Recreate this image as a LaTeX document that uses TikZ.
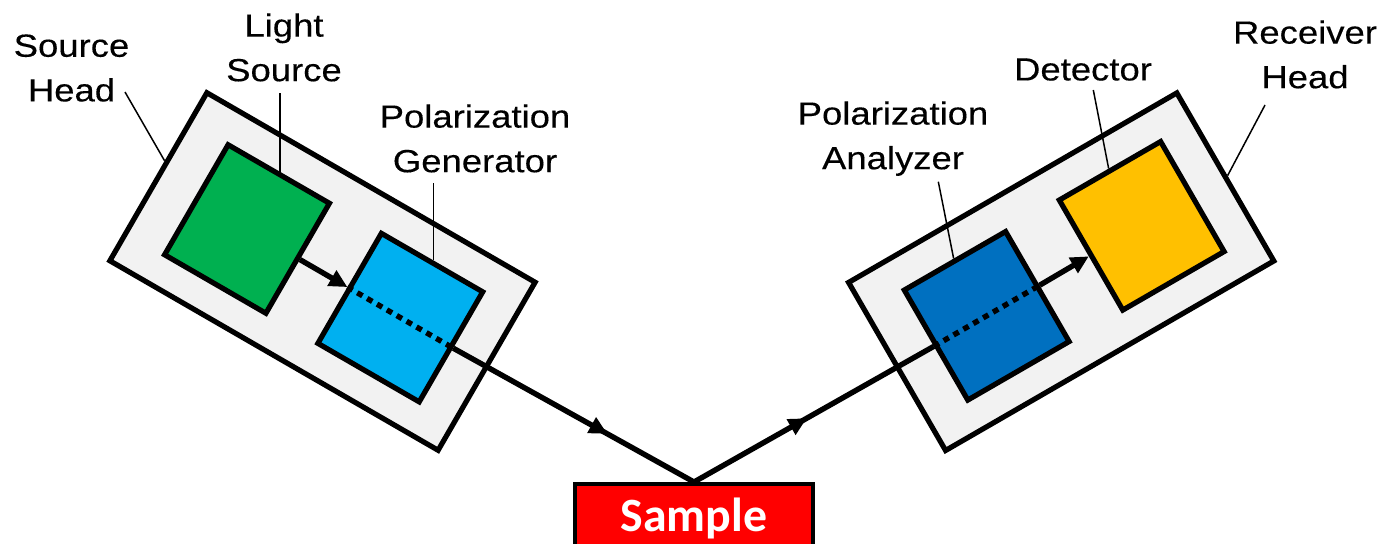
\documentclass[tikz,border=0pt]{standalone}
\usepackage{fontspec}
\setmainfont{Liberation Sans}
\newfontfamily\labfont[FakeStretch=1.14,FakeBold=0.3]{Liberation Sans}
\newfontfamily\smpfont{Carlito}
\usetikzlibrary{arrows.meta,decorations.markings,calc}
\definecolor{headgray}{HTML}{F2F2F2}
\definecolor{lsgreen}{HTML}{00B050}
\definecolor{pgcyan}{HTML}{00B0F0}
\definecolor{pablue}{HTML}{0070C0}
\definecolor{detyellow}{HTML}{FFC000}
\definecolor{smpred}{HTML}{FF0000}
\begin{document}
\begin{tikzpicture}[x=0.5pt,y=-0.5pt,
  head/.style={draw=black,line width=2.6pt,fill=headgray,minimum width=189.5pt,minimum height=97pt,inner sep=0pt},
  comp/.style={draw=black,line width=2.6pt,minimum width=58.5pt,minimum height=63.5pt,inner sep=0pt},
  lab/.style={font=\labfont\fontsize{16}{22.3}\selectfont,align=center,inner sep=0pt,anchor=north},
  leader/.style={line width=0.75pt},
  beam/.style={line width=2.7pt,line join=miter},
  dotbeam/.style={line width=2.7pt,dash pattern=on 3pt off 2.7pt},
  tip/.style={-{Triangle[length=9pt,width=8.5pt]}}
]
\useasboundingbox (0,0) rectangle (1385,543);

% heads and components
\node[head,rotate=-30] (shead) at (322.5,271.5) {};
\node[comp,fill=lsgreen,rotate=-30] (lsrc) at (247,229) {};
\node[comp,fill=pgcyan,rotate=-30] (pgen) at (400.3,317.6) {};
\node[head,rotate=30] (rhead) at (1061.2,271.7) {};
\node[comp,fill=pablue,rotate=30] (pana) at (986.7,315.8) {};
\node[comp,fill=detyellow,rotate=30] (det) at (1141.7,225.8) {};

% sample
\node[draw=black,line width=2pt,fill=smpred,minimum width=119pt,minimum height=34pt,
  anchor=north,inner sep=0pt,text=white,
  font=\smpfont\bfseries\fontsize{23.9}{28}\selectfont] (sample) at (694,482) {Sample};

% beam
\draw[beam,tip] (lsrc.east) -- (pgen.west);
\draw[dotbeam] (pgen.west) -- (pgen.east);
\draw[beam,postaction={decorate},decoration={markings,
  mark=at position 0.32 with {\arrow{Triangle[length=9pt,width=8.5pt]}},
  mark=at position 0.735 with {\arrow{Triangle[length=9pt,width=8.5pt]}}}]
  (pgen.east) -- (sample.north) -- (pana.west);
\draw[dotbeam] (pana.west) -- (pana.east);
\draw[beam,tip] (pana.east) -- (det.west);

% labels
\node[lab] (shlab) at (71.5,34) {Source\\Head};
\node[lab] (lslab) at (284,13) {Light\\Source};
\node[lab] (pglab) at (475,104) {Polarization\\Generator};
\node[lab] (palab) at (893,101) {Polarization\\Analyzer};
\node[lab] (detlab) at (1083,58) {Detector};
\node[lab] (rhlab) at (1305,20) {Receiver\\Head};

% leader lines
\coordinate (shl) at (125,92);
\coordinate (lsl) at (280,93);
\coordinate (pgl) at (432,183);
\coordinate (pal) at (938.3,181.7);
\coordinate (detl) at (1093.3,90);
\coordinate (rhl) at (1265,105);
\draw[leader] (shl) -- ($(shead.west)!0.17!(shead.north west)$);
\draw[leader] (lsrc.north) -- (lsrc.north |- lsl);
\draw[leader] (pgen.north) -- (pgen.north |- pgl);
\draw[leader] (pana.north) -- (pal);
\draw[leader] (det.north) -- (detl);
\draw[leader] (rhead.east) -- (rhl);
\end{tikzpicture}
\end{document}
